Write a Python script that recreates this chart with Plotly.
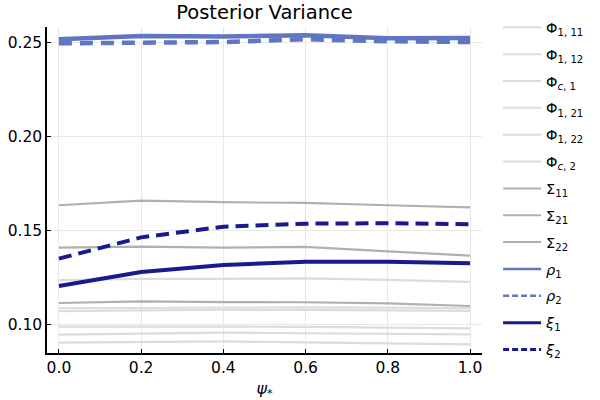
import plotly.graph_objects as go

psi = [0.0, 0.2, 0.4, 0.6, 0.8, 1.0]

phi_1_11 = [0.1239, 0.1245, 0.1245, 0.1248, 0.1240, 0.1229]
phi_1_12 = [0.1089, 0.1092, 0.1095, 0.1094, 0.1092, 0.1089]
phi_c_1 = [0.1074, 0.1078, 0.1081, 0.1080, 0.1078, 0.1075]
phi_1_21 = [0.0991, 0.0992, 0.0991, 0.0990, 0.0987, 0.0982]
phi_1_22 = [0.0949, 0.0954, 0.0959, 0.0956, 0.0953, 0.0950]
phi_c_2 = [0.0906, 0.0910, 0.0913, 0.0907, 0.0903, 0.0897]

sigma_11 = [0.1637, 0.1661, 0.1653, 0.1649, 0.1637, 0.1626]
sigma_21 = [0.1411, 0.1417, 0.1411, 0.1415, 0.1392, 0.1369]
sigma_22 = [0.1117, 0.1126, 0.1122, 0.1121, 0.1115, 0.1101]

rho_1 = [0.2520, 0.2537, 0.2534, 0.2541, 0.2525, 0.2527]
rho_2 = [0.2498, 0.2500, 0.2505, 0.2520, 0.2509, 0.2505]

xi_1 = [0.1207, 0.1282, 0.1319, 0.1337, 0.1337, 0.1328]
xi_2 = [0.1353, 0.1466, 0.1523, 0.1539, 0.1541, 0.1536]

x_ticks = [0.0, 0.2, 0.4, 0.6, 0.8, 1.0]
x_ticklabels = ["0.0", "0.2", "0.4", "0.6", "0.8", "1.0"]
y_ticks = [0.10, 0.15, 0.20, 0.25]
y_ticklabels = ["0.10", "0.15", "0.20", "0.25"]

PHI_C = "#dcdcdc"
SIG_C = "#b0b0b0"
RHO_C = "#6176c2"
XI_C = "#1a1a8e"

# name, values, colour, plot width, plot dash, legend width, legend dash
series = [
    ("Φ<sub>1, 11</sub>", phi_1_11, PHI_C, 2.2, "solid", 2, "solid"),
    ("Φ<sub>1, 12</sub>", phi_1_12, PHI_C, 2.2, "solid", 2, "solid"),
    ("Φ<sub><i>c</i>, 1</sub>", phi_c_1, PHI_C, 2.2, "solid", 2, "solid"),
    ("Φ<sub>1, 21</sub>", phi_1_21, PHI_C, 2.2, "solid", 2, "solid"),
    ("Φ<sub>1, 22</sub>", phi_1_22, PHI_C, 2.2, "solid", 2, "solid"),
    ("Φ<sub><i>c</i>, 2</sub>", phi_c_2, PHI_C, 2.2, "solid", 2, "solid"),
    ("Σ<sub>11</sub>", sigma_11, SIG_C, 2.2, "solid", 2, "solid"),
    ("Σ<sub>21</sub>", sigma_21, SIG_C, 2.2, "solid", 2, "solid"),
    ("Σ<sub>22</sub>", sigma_22, SIG_C, 2.2, "solid", 2, "solid"),
    ("<i>ρ</i><sub>1</sub>", rho_1, RHO_C, 4.5, "solid", 2.5, "solid"),
    ("<i>ρ</i><sub>2</sub>", rho_2, RHO_C, 4.5, "13px,8px", 2.5, "6px,3px"),
    ("<i>ξ</i><sub>1</sub>", xi_1, XI_C, 4, "solid", 3, "solid"),
    ("<i>ξ</i><sub>2</sub>", xi_2, XI_C, 4, "13px,7px", 3, "6px,3px"),
]

fig = go.Figure()
for i, (name, vals, col, w, dash, lw, ldash) in enumerate(series):
    fig.add_trace(go.Scatter(x=psi, y=vals, mode="lines", name=name,
                             legendgroup=f"g{i}", showlegend=False,
                             line=dict(color=col, width=w, dash=dash)))
    fig.add_trace(go.Scatter(x=[None], y=[None], mode="lines", name=name,
                             legendgroup=f"g{i}", showlegend=True,
                             line=dict(color=col, width=lw, dash=ldash)))

fig.update_layout(
    width=600, height=400,
    margin=dict(l=47, r=118, t=27, b=47, autoexpand=False),
    paper_bgcolor="white", plot_bgcolor="white",
    font=dict(family="DejaVu Sans", size=15, color="black"),
    title=dict(text="Posterior Variance", x=264.5 / 600, xanchor="center",
               y=0.97, yanchor="middle",
               font=dict(size=19.5, family="DejaVu Sans")),
    showlegend=True,
    legend=dict(x=1.037, xanchor="left", y=1.048, yanchor="top", itemwidth=38,
                font=dict(size=14.5), tracegroupgap=5, bgcolor="rgba(0,0,0,0)",
                traceorder="grouped", maxheight=400),
    xaxis=dict(range=[-0.029, 1.029], tickvals=x_ticks, ticktext=x_ticklabels,
               showgrid=True, gridcolor="#e8e8e8", gridwidth=1, zeroline=False,
               showline=True, linecolor="black", linewidth=1.5, mirror=False,
               ticks="inside", ticklen=4, tickcolor="black", automargin=False,
               title=dict(text="<i>ψ</i><sub>*</sub>", font=dict(size=16), standoff=6),
               tickfont=dict(size=15.5)),
    yaxis=dict(range=[0.0851, 0.2585], tickvals=y_ticks, ticktext=y_ticklabels,
               showgrid=True, gridcolor="#e8e8e8", gridwidth=1, zeroline=False,
               showline=True, linecolor="black", linewidth=1.5, mirror=False,
               ticks="inside", ticklen=4, tickcolor="black", automargin=False,
               tickfont=dict(size=15.5)),
)

# remove the browser's default 8px page margin so the figure fills the window
fig.write_html("out.html", config={"displayModeBar": False},
               post_script="document.body.style.margin='0px';")
